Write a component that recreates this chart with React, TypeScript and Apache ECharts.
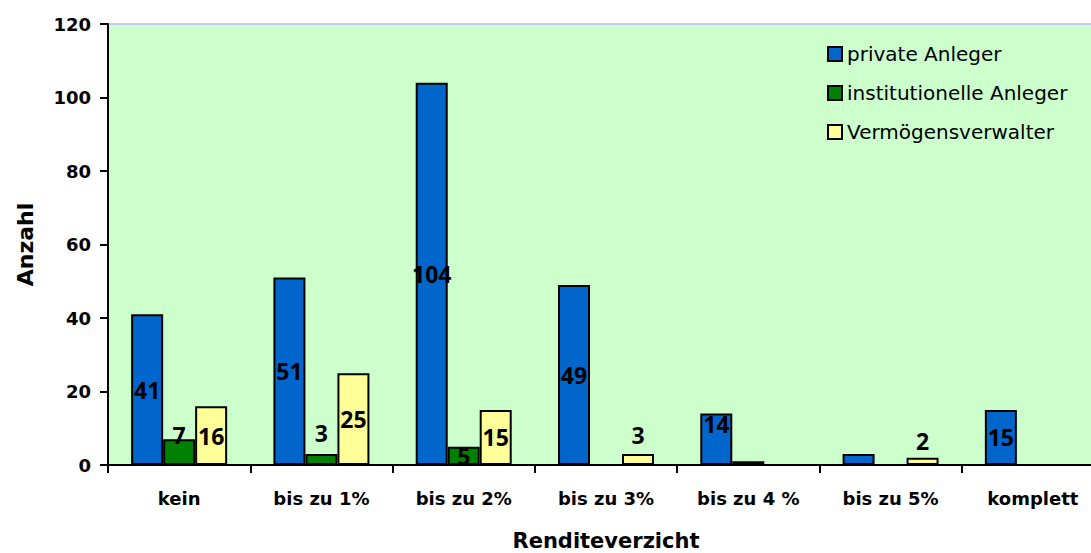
import React, { useEffect, useRef } from "react";
import * as echarts from "echarts";

const categories = ["kein", "bis zu 1%", "bis zu 2%", "bis zu 3%", "bis zu 4 %", "bis zu 5%", "komplett"];
const seriesNames = ["private Anleger", "institutionelle Anleger", "Vermögensverwalter"];
const privateAnleger = [41, 51, 104, 49, 14, 3, 15];
const institutionelleAnleger = [7, 3, 5, 0, 1, 0, 0];
const vermoegensverwalter = [16, 25, 15, 3, 0, 2, 0];
const yTicks = [0, 20, 40, 60, 80, 100, 120];

const colors = ["#0066CC", "#008000", "#FFFF99"];
// label placement tweaks per series/index: "hide" | [dx, dy]
const labelTweaks: any[] = [
  { 4: [0, 10], 5: "hide" },
  { 0: [0, -4], 1: [0, -21], 4: "hide" },
  { 3: [0, -19], 5: [0, -17] },
];

const FONT = "DejaVu Sans";

export default function App() {
  const ref = useRef<HTMLDivElement>(null);
  useEffect(() => {
    const chart = echarts.init(ref.current!, null, { renderer: "svg" });
    const all = [privateAnleger, institutionelleAnleger, vermoegensverwalter];
    const series = all.map((vals, si) => ({
      name: seriesNames[si],
      type: "bar",
      barWidth: 32,
      barGap: "0%",
      itemStyle: { color: colors[si], borderColor: "#000", borderWidth: 2 },
      data: vals.map((v, i) => {
        const tw = labelTweaks[si][i];
        let label: any;
        if (v === 0 || tw === "hide") label = { show: false };
        else if (Array.isArray(tw)) {
          label = {
            show: true,
            position: ["50%", tw[1]],
            align: "center",
            verticalAlign: "middle",
          };
        } else label = { show: true, position: "inside" };
        return { value: v, label };
      }),
      label: {
        show: true,
        color: "#000",
        fontFamily: "Open Sans",
        fontWeight: "bold",
        fontSize: 23,
      },
    }));
    chart.setOption({
      animation: false,
      backgroundColor: "#fff",
      grid: {
        left: 108,
        top: 24,
        right: -13,
        bottom: 88,
        show: true,
        backgroundColor: "#CCFFCC",
        borderColor: "#C8C8FF",
        borderWidth: 2,
        outerBoundsMode: "none",
      },
      legend: {
        orient: "vertical",
        left: 827,
        top: 44,
        padding: 0,
        itemWidth: 14,
        itemHeight: 14,
        itemGap: 19,
        icon: "rect",
        itemStyle: { borderColor: "#000", borderWidth: 2 },
        textStyle: { fontFamily: FONT, fontSize: 20, color: "#000" },
        data: seriesNames,
      },
      xAxis: {
        type: "category",
        data: categories,
        name: "Renditeverzicht",
        nameLocation: "middle",
        nameGap: 65,
        nameTextStyle: { fontFamily: FONT, fontWeight: "bold", fontSize: 21, color: "#000" },
        axisLine: { lineStyle: { color: "#000", width: 2 } },
        axisTick: { show: true, length: 8, lineStyle: { color: "#000", width: 2 } },
        axisLabel: { fontFamily: FONT, fontWeight: "bold", fontSize: 18, color: "#000", margin: 24 },
      },
      yAxis: {
        type: "value",
        min: yTicks[0],
        max: yTicks[yTicks.length - 1],
        interval: 20,
        name: "Anzahl",
        nameLocation: "middle",
        nameGap: 72,
        nameTextStyle: { fontFamily: FONT, fontWeight: "bold", fontSize: 22, color: "#000" },
        splitLine: { show: false },
        axisLine: { show: true, lineStyle: { color: "#000", width: 2 } },
        axisTick: { show: true, length: 8, lineStyle: { color: "#000", width: 2 } },
        axisLabel: { fontFamily: FONT, fontWeight: "bold", fontSize: 18, color: "#000", margin: 17 },
      },
      series,
    });
    return () => chart.dispose();
  }, []);
  return (
    <div
      ref={ref}
      style={{ position: "absolute", left: 0, top: 0, width: 1091, height: 553 }}
    />
  );
}
